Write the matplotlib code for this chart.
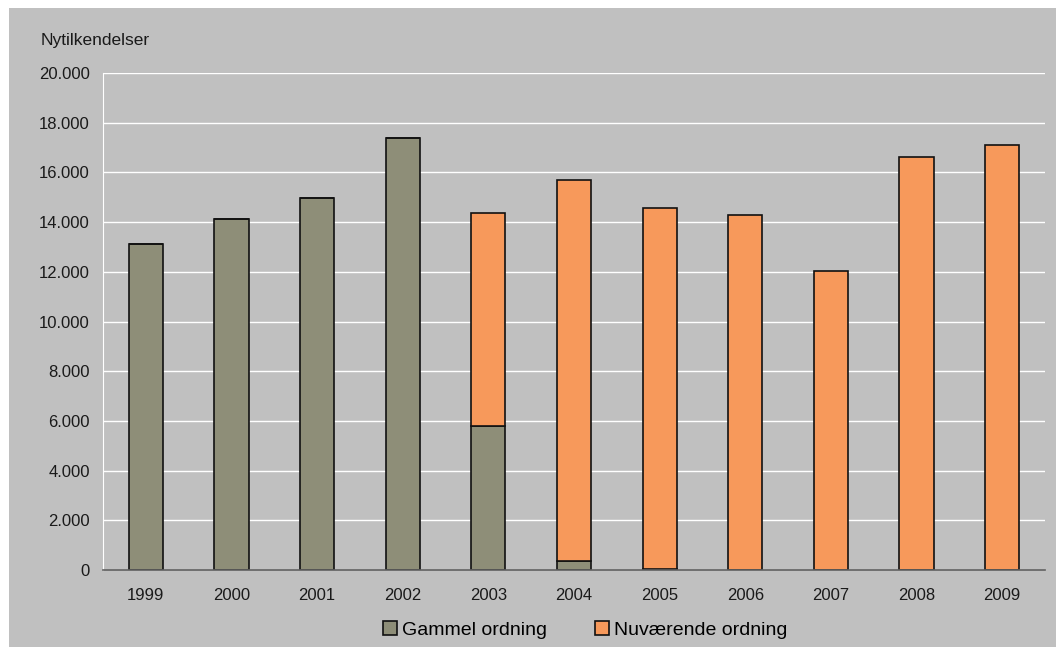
import matplotlib.pyplot as plt
from matplotlib.patches import Rectangle
from matplotlib.ticker import FuncFormatter

# data
years = ['1999', '2000', '2001', '2002', '2003', '2004', '2005', '2006', '2007', '2008', '2009']
gammel = [13130, 14110, 14970, 17390, 5800, 350, 40, 20, 10, 5, 5]
nuvaerende = [0, 0, 0, 0, 8550, 15340, 14540, 14270, 12020, 16630, 17110]

plt.rcParams['font.family'] = ['Liberation Sans', 'DejaVu Sans']

fig = plt.figure(figsize=(10.56, 6.47), dpi=100)
fig.patch.set_facecolor('white')
# grey chart area
fig.patches.append(Rectangle((9 / 1056, 0), 1 - 9 / 1056, (647 - 8) / 647,
                             transform=fig.transFigure, facecolor='#c0c0c0',
                             edgecolor='none', zorder=-5))

ax = fig.add_axes([103 / 1056, (647 - 570) / 647, (1045 - 103) / 1056, (570 - 73) / 647])
ax.set_facecolor('#c0c0c0')

x = range(len(years))
ax.bar(x, gammel, width=0.4, color='#8e8e78', edgecolor='#111111', linewidth=1.2,
       label='Gammel ordning', zorder=3)
ax.bar(x, nuvaerende, width=0.4, bottom=gammel, color='#f7995b', edgecolor='#111111',
       linewidth=1.2, label='Nuværende ordning', zorder=3)

ax.set_xlim(-0.5, len(years) - 0.5)
ax.set_ylim(0, 20000)
ax.set_yticks(range(0, 20001, 2000))
ax.yaxis.set_major_formatter(FuncFormatter(lambda v, p: f'{int(v):,}'.replace(',', '.')))
ax.set_xticks(list(x))
ax.set_xticklabels(years)
ax.tick_params(axis='both', length=0, labelsize=12, colors='#1a1a1a')
ax.tick_params(axis='y', pad=9.5)
ax.tick_params(axis='x', pad=13)
ax.grid(axis='y', color='white', linewidth=1, zorder=1)
ax.set_axisbelow(True)

for s in ['top', 'right']:
    ax.spines[s].set_visible(False)
ax.spines['left'].set_color('white')
ax.spines['bottom'].set_color('#606060')
ax.spines['bottom'].set_linewidth(1.2)
ax.spines['bottom'].set_zorder(4)

fig.text(41 / 1056, 1 - 40 / 647, 'Nytilkendelser', fontsize=12.5, va='center',
         ha='left', color='#1a1a1a')

fig.legend(loc='center', bbox_to_anchor=(585 / 1056, 1 - 630 / 647), ncol=2,
           frameon=False, fontsize=14, handlelength=0.7, handleheight=0.7,
           handletextpad=0.25, columnspacing=2.5)

fig.savefig('out.png', dpi=100, facecolor=fig.get_facecolor())
